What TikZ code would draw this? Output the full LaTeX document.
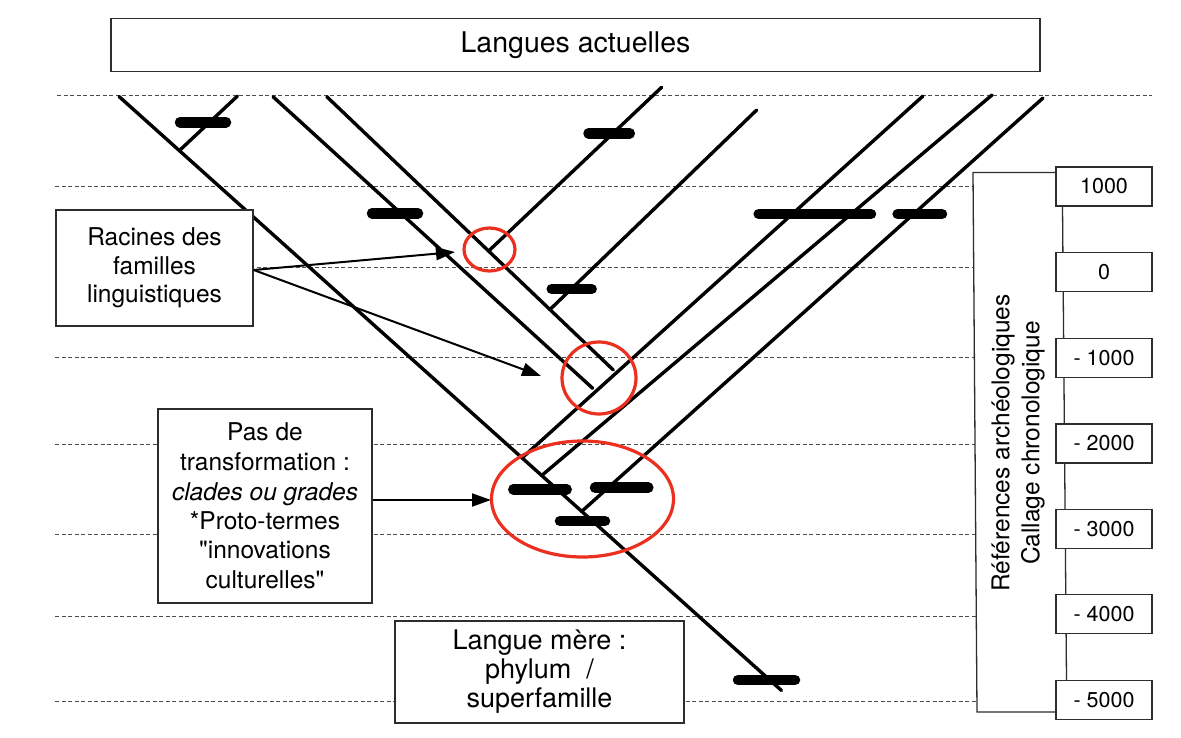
\documentclass[tikz,border=0pt]{standalone}
\usepackage{fontspec}
\setmainfont{TeX Gyre Heros}
\usetikzlibrary{arrows.meta,shapes.geometric}
\definecolor{rouge}{RGB}{236,48,32}
\definecolor{trait}{RGB}{45,45,45}
\begin{document}
\begin{tikzpicture}[x=1pt,y=-1pt,
  lien/.style={line width=3.4pt, line cap=round},
  barre/.style={line width=10.5pt, line cap=round},
  grille/.style={line width=1pt, black!70, dash pattern=on 4pt off 2.5pt},
  cadre/.style={draw=trait, line width=1.3pt, fill=white, align=center, inner sep=0pt},
  texte/.style={font=\fontsize{24.5}{29.5}\selectfont},
  valeur/.style={cadre, minimum width=96, minimum height=39, font=\fontsize{21.5}{25}\selectfont},
  cercle/.style={draw=rouge, line width=3.2pt, ellipse, inner sep=0pt},
  fleche/.style={line width=2pt, -{Triangle[length=19pt,width=13pt]}},
]
\useasboundingbox (0,0) rectangle (1181,738);
\fill[white] (0,0) rectangle (1181,738);

% dashed time lines
\draw[grille] (57,96) -- (1152,96);
\foreach \yy in {186.5,268,357.5,444,534,616,701}
  \draw[grille] (55,\yy) -- ({973+(\yy-173)*0.0074},\yy);

% tree coordinates
\coordinate (A0) at (119,96.5);   \coordinate (A1) at (781.5,690.5);
\coordinate (T0) at (237.5,96);   \coordinate (T1) at (179.5,150.5);
\coordinate (B0) at (273,96.7);   \coordinate (B1) at (592.7,388.3);
\coordinate (C0) at (326.8,96.7); \coordinate (C1) at (613.3,370);
\coordinate (E1a) at (661.6,87.3); \coordinate (E1b) at (489.7,250);
\coordinate (E2a) at (756.7,110);  \coordinate (E2b) at (550,309.5);
\coordinate (L1a) at (923,96);     \coordinate (L1b) at (522,458);
\coordinate (L2a) at (992,95);     \coordinate (L2b) at (541.7,475.5);
\coordinate (L3a) at (1043,98);    \coordinate (L3b) at (581.7,511.4);

\draw[lien] (A0) -- (A1);
\draw[lien] (T0) -- (T1);
\draw[lien] (B0) -- (B1);
\draw[lien] (C0) -- (C1);
\draw[lien] (E1a) -- (E1b);
\draw[lien] (E2a) -- (E2b);
\draw[lien] (L1a) -- (L1b);
\draw[lien] (L2a) -- (L2b);
\draw[lien] (L3a) -- (L3b);

% bars
\draw[barre] (180,122.3) -- (226,122.3);
\draw[barre] (372,213.3) -- (418,213.3);
\draw[barre] (588.5,133.3) -- (629.8,133.3);
\draw[barre] (551.7,289) -- (591.7,289);
\draw[barre] (758.7,214) -- (871,214);
\draw[barre] (897.6,214) -- (942,214);
\draw[barre] (513.3,489.3) -- (566.7,489.3);
\draw[barre] (595,487.7) -- (648.3,487.7);
\draw[barre] (560,521) -- (605,521);
\draw[barre] (738,680) -- (795,680);

% red circles
\node[cercle, minimum width=51, minimum height=43] (r1) at (489.5,249.5) {};
\node[cercle, minimum width=74, minimum height=72] (r2) at (599,378) {};
\node[cercle, minimum width=182, minimum height=116] (r3) at (582.5,499) {};

% boxes
\node[cadre, minimum width=929, minimum height=53, font=\fontsize{28.5}{32}\selectfont] (titre) at (575.5,45) {Langues actuelles};
\node[cadre, texte, minimum width=197, minimum height=116, font=\fontsize{24.5}{28.5}\selectfont] (racines) at (154.5,268) {Racines des\\familles\\linguistiques};
\node[cadre, texte, minimum width=214, minimum height=194] (pas) at (265,506) {Pas de\\transformation :\\\textit{clades ou grades}\\*Proto-termes\\\textquotedbl innovations\\culturelles\textquotedbl};
\node[cadre, minimum width=289, minimum height=102, font=\fontsize{27}{29}\selectfont] (mere) at (539.5,672) {Langue mère :\\phylum~~/\\superfamille};

% arrows
\coordinate (p1) at (455,252);
\coordinate (p2) at (541,376);
\coordinate (p3) at (491,500);
\draw[fleche] ([yshift=-2pt]racines.east) -- (p1);
\draw[fleche] ([yshift=-2pt]racines.east) -- (p2);
\draw[fleche] (pas.east |- p3) -- (p3);

% chronological scale
\draw[line width=1.3pt, trait] (1062.5,206) -- (1066.5,680);
\node[valeur] (v1) at (1104,186.5) {1000};
\node[valeur] (v2) at (1104,272) {0};
\node[valeur] (v3) at (1104,358) {- 1000};
\node[valeur] (v4) at (1104,443.4) {- 2000};
\node[valeur] (v5) at (1104,528.7) {- 3000};
\node[valeur] (v6) at (1104,614) {- 4000};
\node[valeur] (v7) at (1104,700) {- 5000};
\coordinate (k1) at (973,172.5);
\coordinate (k2) at (977,712);
\draw[line width=1.3pt, trait] ([yshift=14pt]v1.west) -- (k1) -- (k2) -- ([yshift=-12pt]v7.west);
\node[rotate=90, align=center, font=\fontsize{24.5}{30}\selectfont] (ref) at (1018,443) {Références archéologiques\\Callage chronologique};
\end{tikzpicture}
\end{document}
